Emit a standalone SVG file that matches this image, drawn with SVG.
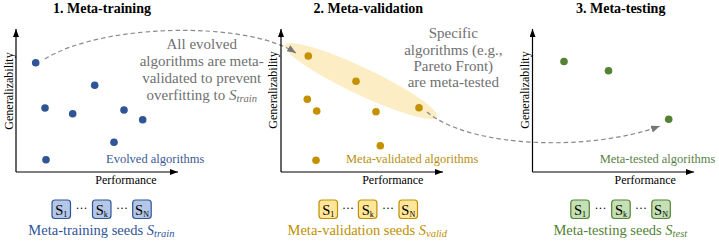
<svg xmlns="http://www.w3.org/2000/svg" width="719" height="242" viewBox="0 0 719 242">
<style>
text{font-family:"Liberation Serif","Times New Roman",serif;}
.title{font-size:14px;font-weight:bold;fill:#000;text-anchor:middle;}
.axl{font-size:12px;fill:#000;text-anchor:middle;}
.axis{stroke:#000;stroke-width:1.2;fill:none;marker-end:url(#ah);}
.note{font-size:15px;fill:#707070;text-anchor:middle;}
.conn{stroke:#8a8a8a;stroke-width:1.2;fill:none;stroke-dasharray:4.5 3;marker-end:url(#gh);}
.b{fill:#2f5597;} .y{fill:#c59100;} .g{fill:#548235;}
.lab{font-size:12.5px;}
.seed{font-size:14.5px;text-anchor:middle;}
.box{stroke-width:1.2;}
.bb{fill:#b4c7e7;stroke:#2f5597;} .yb{fill:#ffe699;stroke:#bf9000;} .gb{fill:#c5e0b4;stroke:#548235;}
.st{font-size:14.5px;fill:#000;text-anchor:middle;}
.dots{font-size:12px;fill:#000;text-anchor:middle;}
</style>
<defs>
<marker id="ah" viewBox="0 0 8 6" refX="8" refY="3" markerWidth="8" markerHeight="6" markerUnits="userSpaceOnUse" orient="auto"><path d="M0,0 L8,3 L0,6 z" fill="#000"/></marker>
<marker id="gh" viewBox="0 0 9 7" refX="9" refY="3.5" markerWidth="9" markerHeight="7" markerUnits="userSpaceOnUse" orient="auto"><path d="M0,0 L9,3.5 L0,7 z" fill="#777"/></marker>
</defs>

<ellipse id="pareto-highlight" cx="361" cy="81" rx="84" ry="13.5" transform="rotate(25.3 361 81)" fill="#fdedc4"/>

<g id="connectors">
<path class="conn" d="M45,59 C100,24 245,20 296,53"/>
<path class="conn" d="M427,112 C470,148 590,152 660,126"/>
</g>

<g id="panel-train">
<text class="title" x="102" y="13">1. Meta-training</text>
<path class="axis" d="M16,172 V29"/>
<path class="axis" d="M16,172 H178"/>
<text class="axl" x="126" y="184">Performance</text>
<text class="axl" transform="translate(12.5 91) rotate(-90)">Generalizability</text>
<g class="b">
<circle cx="35.7" cy="62.7" r="3.8"/><circle cx="45" cy="108" r="3.8"/><circle cx="72.7" cy="113.7" r="3.8"/><circle cx="94.7" cy="85.3" r="3.8"/>
<circle cx="124" cy="110" r="3.8"/><circle cx="142.7" cy="119.7" r="3.8"/><circle cx="114" cy="142.3" r="3.8"/><circle cx="46" cy="159.7" r="3.8"/>
</g>
<text class="lab" x="106" y="163" fill="#3a5a95">Evolved algorithms</text>
<g id="train-seeds">
<rect class="box bb" x="52" y="200" width="18.5" height="18.5" rx="3"/>
<text class="st" x="61.2" y="214.5">S<tspan font-size="8" dy="2">1</tspan></text>
<text class="dots" x="81.5" y="212">···</text>
<rect class="box bb" x="92.5" y="200" width="18.5" height="18.5" rx="3"/>
<text class="st" x="101.7" y="214.5">S<tspan font-size="8" dy="2">k</tspan></text>
<text class="dots" x="122" y="212">···</text>
<rect class="box bb" x="132.7" y="200" width="18.5" height="18.5" rx="3"/>
<text class="st" x="142" y="214.5">S<tspan font-size="8" dy="2">N</tspan></text>
</g>
<text class="seed" x="101.4" y="234.5" fill="#2f5597">Meta-training seeds <tspan font-style="italic">S</tspan><tspan font-style="italic" font-size="10.5" dy="2.5">train</tspan></text>
</g>

<g id="note-validate">
<text class="note" x="201.7" y="49.3">All evolved</text>
<text class="note" x="201.7" y="66">algorithms are meta-</text>
<text class="note" x="201.7" y="82.7">validated to prevent</text>
<text class="note" x="201.7" y="99.5">overfitting to <tspan font-style="italic">S</tspan><tspan font-style="italic" font-size="10.5" dy="2.5">train</tspan></text>
</g>

<g id="panel-valid">
<text class="title" x="368.3" y="13">2. Meta-validation</text>
<path class="axis" d="M281,172 V29"/>
<path class="axis" d="M281,172 H443"/>
<text class="axl" x="392.8" y="184">Performance</text>
<text class="axl" transform="translate(276.5 90) rotate(-90)">Generalizability</text>
<g class="y">
<circle cx="308.3" cy="56" r="3.8"/><circle cx="356" cy="81.3" r="3.8"/><circle cx="307.3" cy="99.3" r="3.8"/><circle cx="316.7" cy="111" r="3.8"/>
<circle cx="376" cy="111.7" r="3.8"/><circle cx="419" cy="107.7" r="3.8"/><circle cx="380.3" cy="145.7" r="3.8"/><circle cx="316" cy="160.3" r="3.8"/>
</g>
<text class="lab" x="346" y="163" fill="#b8900f">Meta-validated algorithms</text>
<g id="valid-seeds">
<rect class="box yb" x="319" y="200" width="18.5" height="18.5" rx="3"/>
<text class="st" x="328.3" y="214.5">S<tspan font-size="8" dy="2">1</tspan></text>
<text class="dots" x="348" y="212">···</text>
<rect class="box yb" x="358.4" y="200" width="18.5" height="18.5" rx="3"/>
<text class="st" x="367.7" y="214.5">S<tspan font-size="8" dy="2">k</tspan></text>
<text class="dots" x="388" y="212">···</text>
<rect class="box yb" x="399" y="200" width="18.5" height="18.5" rx="3"/>
<text class="st" x="408.3" y="214.5">S<tspan font-size="8" dy="2">N</tspan></text>
</g>
<text class="seed" x="367.3" y="234.5" fill="#bf9000">Meta-validation seeds <tspan font-style="italic">S</tspan><tspan font-style="italic" font-size="10.5" dy="2.5">valid</tspan></text>
</g>

<g id="note-test">
<text class="note" x="453.3" y="38.3">Specific</text>
<text class="note" x="453.3" y="54.6">algorithms (e.g.,</text>
<text class="note" x="453.3" y="70.6">Pareto Front)</text>
<text class="note" x="453.3" y="86.5">are meta-tested</text>
</g>

<g id="panel-test">
<text class="title" x="620.7" y="13">3. Meta-testing</text>
<path class="axis" d="M532.5,172 V29"/>
<path class="axis" d="M532.5,172 H694"/>
<text class="axl" x="645.2" y="184">Performance</text>
<text class="axl" transform="translate(529 90) rotate(-90)">Generalizability</text>
<g class="g">
<circle cx="564" cy="61.5" r="3.8"/><circle cx="608.5" cy="70.7" r="3.8"/><circle cx="668.7" cy="119.2" r="3.8"/>
</g>
<text class="lab" x="599.7" y="163" fill="#5a7f46">Meta-tested algorithms</text>
<g id="test-seeds">
<rect class="box gb" x="570.8" y="200" width="18.5" height="18.5" rx="3"/>
<text class="st" x="580" y="214.5">S<tspan font-size="8" dy="2">1</tspan></text>
<text class="dots" x="600.5" y="212">···</text>
<rect class="box gb" x="611.7" y="200" width="18.5" height="18.5" rx="3"/>
<text class="st" x="621" y="214.5">S<tspan font-size="8" dy="2">k</tspan></text>
<text class="dots" x="641" y="212">···</text>
<rect class="box gb" x="651.8" y="200" width="18.5" height="18.5" rx="3"/>
<text class="st" x="661" y="214.5">S<tspan font-size="8" dy="2">N</tspan></text>
</g>
<text class="seed" x="620.3" y="234.5" fill="#548235">Meta-testing seeds <tspan font-style="italic">S</tspan><tspan font-style="italic" font-size="10.5" dy="2.5">test</tspan></text>
</g>
</svg>
